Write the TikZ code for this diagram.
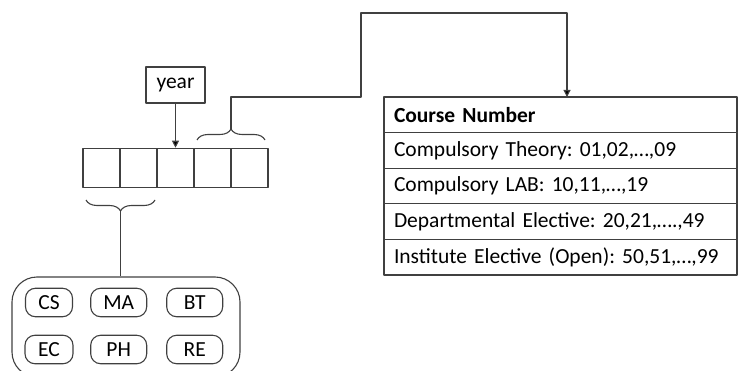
\documentclass[tikz,border=0pt]{standalone}
\usepackage{fontspec}
\setmainfont{Carlito}
\usetikzlibrary{arrows.meta,decorations.pathreplacing,positioning}
\frenchspacing

\begin{document}
\begin{tikzpicture}[x=1pt,y=-1pt,>={Triangle[length=7pt,width=7pt]},line join=round,
  font=\fontsize{21.5}{25}\selectfont,
  ln/.style={draw=black!75,line width=1.1pt},
  cell/.style={ln,minimum width=37pt,minimum height=39.5pt,inner sep=0pt},
  brc/.style={ln,decorate,decoration={brace,amplitude=11pt}},
  row/.style={ln,anchor=north,outer sep=0pt,minimum width=353pt,text width=333pt,
    inner xsep=10pt,minimum height=35.6pt,align=left},
  pill/.style={ln,rounded corners=10pt,minimum height=28.5pt,inner sep=0pt}]
\useasboundingbox (0,0) rectangle (738,371);
% code cells
\foreach \i in {1,...,5}
  \node[cell] (c\i) at ({64.5+37*\i},168) {};
\node[ln,minimum width=59pt,minimum height=36pt,inner sep=0pt] (year) at (175.5,85) {year};
\draw[ln,->,-{Triangle[length=7pt,width=7pt,fill=black]}] (year.south) -- (c3.north);
% braces
\draw[brc] (197,140) -- (265,140);
\coordinate (tbt) at (231,129);
\draw[brc] (155,200) -- (86,200);
\coordinate (dbt) at (120.5,211);
% course number table
\node[row,anchor=north west] (hdr) at (384,97) {\textbf{Course Number}};
\node[row,below=0pt of hdr] (r1) {Compulsory Theory: 01,02,…,09};
\node[row,below=0pt of r1] (r2) {Compulsory LAB: 10,11,…,19};
\node[row,below=0pt of r2] (r3) {Departmental Elective: 20,21,….,49};
\node[row,below=0pt of r3] (r4) {Institute Elective (Open): 50,51,…,99};
\coordinate (up1) at (231,97);
\coordinate (up2) at (361,97);
\coordinate (up3) at (361,13);
\coordinate (up4) at (567,13);
\draw[ln,-{Triangle[length=7pt,width=7pt,fill=black]}] (tbt) -- (up1) -- (up2) -- (up3) -- (up4) -- (up4 |- hdr.north);
% departments
\node[ln,rounded corners=25pt,minimum width=228pt,minimum height=100pt] (grp) at (126,327) {};
\draw[ln] (dbt) -- (dbt |- grp.north);
\node[pill,minimum width=47pt] (cs) at (49,302.5) {CS};
\node[pill,minimum width=56pt] (ma) at (118.7,302.5) {MA};
\node[pill,minimum width=56pt] (bt) at (194.7,302.5) {BT};
\node[pill,minimum width=48pt] (ec) at (49,349.5) {EC};
\node[pill,minimum width=56pt] (ph) at (118.7,349.5) {PH};
\node[pill,minimum width=56pt] (re) at (194.7,349.5) {RE};
\end{tikzpicture}
\end{document}
